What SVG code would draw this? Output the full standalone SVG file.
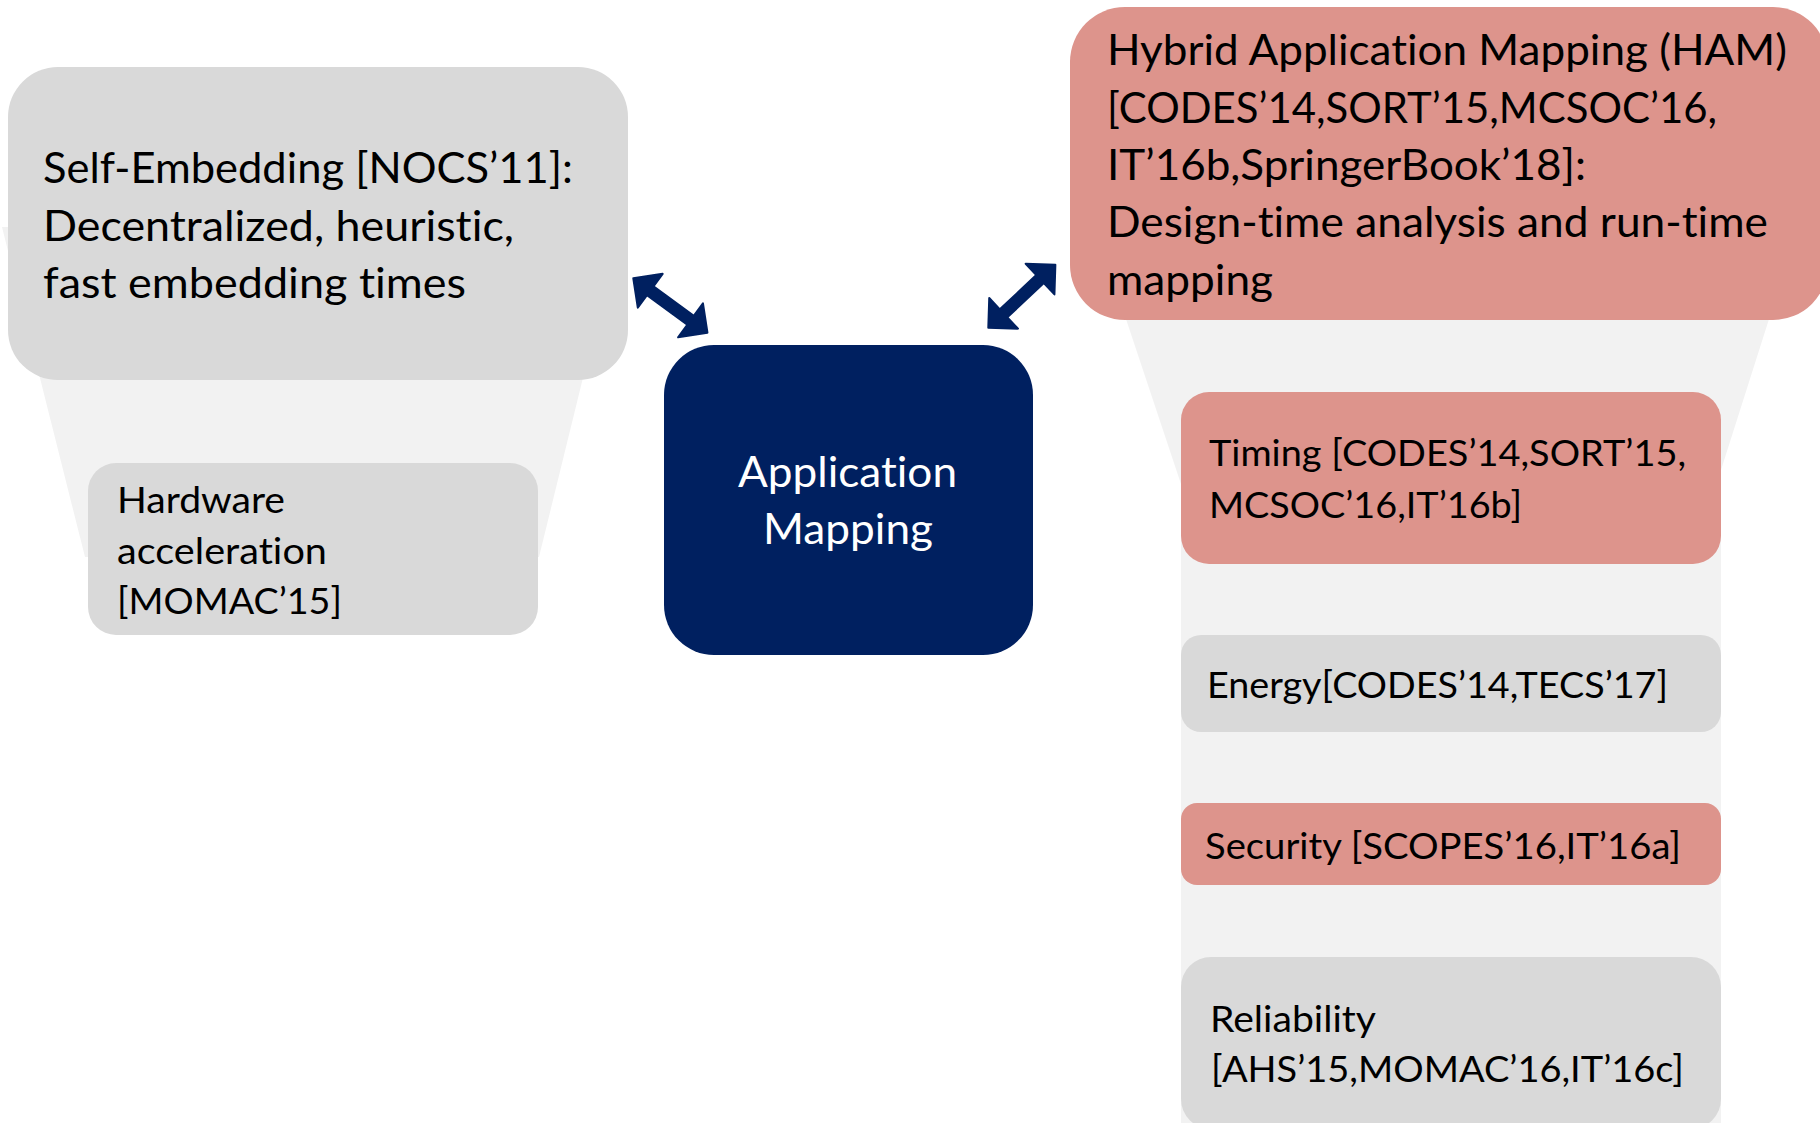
<svg xmlns="http://www.w3.org/2000/svg" width="1820" height="1123" viewBox="0 0 1820 1123">
<style>
.funnel{fill:#f2f2f2}
.grey{fill:#d9d9d9}
.red{fill:#dd948c}
.navy{fill:#002060}
.arrow{fill:#002060;stroke:#002060;stroke-width:2;stroke-linejoin:round}
text{font-family:Lato,"Open Sans","Liberation Sans",sans-serif;fill:#000;font-variant-ligatures:none;font-feature-settings:"liga" 0,"clig" 0,"dlig" 0}
.big{font-size:42.5px}
.med{font-size:36.5px}
.white{fill:#fff}
</style>
<defs>
<polygon id="dblarrow" points="0,0 21,-21 21,-5.5 71,-5.5 71,-21 92,0 71,21 71,5.5 21,5.5 21,21"/>
</defs>
<rect width="1820" height="1123" fill="#fff"/>
<g id="funnels">
<polygon class="funnel" points="2,227 620,227 539,557 85,557"/>
<polygon class="funnel" points="1103,250 1791,250 1721,470 1721,1123 1181,1123 1181,484"/>
</g>
<g id="self-embedding">
<rect class="grey" x="8" y="67" width="620" height="313" rx="50"/>
<text class="big" x="43" y="183" textLength="530" lengthAdjust="spacingAndGlyphs">Self-Embedding [NOCS’11]:</text>
<text class="big" x="43" y="241" textLength="471" lengthAdjust="spacingAndGlyphs">Decentralized, heuristic,</text>
<text class="big" x="43" y="298" textLength="423" lengthAdjust="spacingAndGlyphs">fast embedding times</text>
</g>
<g id="hardware">
<rect class="grey" x="88" y="463" width="450" height="172" rx="28"/>
<text class="med" x="117" y="513" textLength="168" lengthAdjust="spacingAndGlyphs">Hardware</text>
<text class="med" x="117" y="564" textLength="210" lengthAdjust="spacingAndGlyphs">acceleration</text>
<text class="med" x="117" y="614" textLength="225" lengthAdjust="spacingAndGlyphs">[MOMAC’15]</text>
</g>
<g id="application-mapping">
<rect class="navy" x="664" y="345" width="369" height="310" rx="50"/>
<text class="big white" x="738" y="487" textLength="219" lengthAdjust="spacingAndGlyphs">Application</text>
<text class="big white" x="763" y="544" textLength="170" lengthAdjust="spacingAndGlyphs">Mapping</text>
</g>
<g id="ham">
<rect class="red" x="1070" y="7" width="758" height="313" rx="55"/>
<text class="big" x="1107" y="65" textLength="680" lengthAdjust="spacingAndGlyphs">Hybrid Application Mapping (HAM)</text>
<text class="big" x="1107" y="123" textLength="610" lengthAdjust="spacingAndGlyphs">[CODES’14,SORT’15,MCSOC’16,</text>
<text class="big" x="1107" y="180" textLength="479" lengthAdjust="spacingAndGlyphs">IT’16b,SpringerBook’18]:</text>
<text class="big" x="1107" y="237" textLength="661" lengthAdjust="spacingAndGlyphs">Design-time analysis and run-time</text>
<text class="big" x="1107" y="295" textLength="166" lengthAdjust="spacingAndGlyphs">mapping</text>
</g>
<g id="timing">
<rect class="red" x="1181" y="392" width="540" height="172" rx="28"/>
<text class="med" x="1209" y="466" textLength="477" lengthAdjust="spacingAndGlyphs">Timing [CODES’14,SORT’15,</text>
<text class="med" x="1209" y="518" textLength="313" lengthAdjust="spacingAndGlyphs">MCSOC’16,IT’16b]</text>
</g>
<g id="energy">
<rect class="grey" x="1181" y="635" width="540" height="97" rx="20"/>
<text class="med" x="1207" y="698" textLength="461" lengthAdjust="spacingAndGlyphs">Energy[CODES’14,TECS’17]</text>
</g>
<g id="security">
<rect class="red" x="1181" y="803" width="540" height="82" rx="16"/>
<text class="med" x="1205" y="859" textLength="476" lengthAdjust="spacingAndGlyphs">Security [SCOPES’16,IT’16a]</text>
</g>
<g id="reliability">
<rect class="grey" x="1181" y="957" width="540" height="172" rx="30"/>
<text class="med" x="1210" y="1032" textLength="166" lengthAdjust="spacingAndGlyphs">Reliability</text>
<text class="med" x="1211" y="1082" textLength="473" lengthAdjust="spacingAndGlyphs">[AHS’15,MOMAC’16,IT’16c]</text>
</g>
<g id="connectors">
<use href="#dblarrow" class="arrow" transform="translate(633.3 278.3) rotate(36.3)"/>
<use href="#dblarrow" class="arrow" transform="translate(988.3 327.7) rotate(-43.2)"/>
</g>
</svg>
